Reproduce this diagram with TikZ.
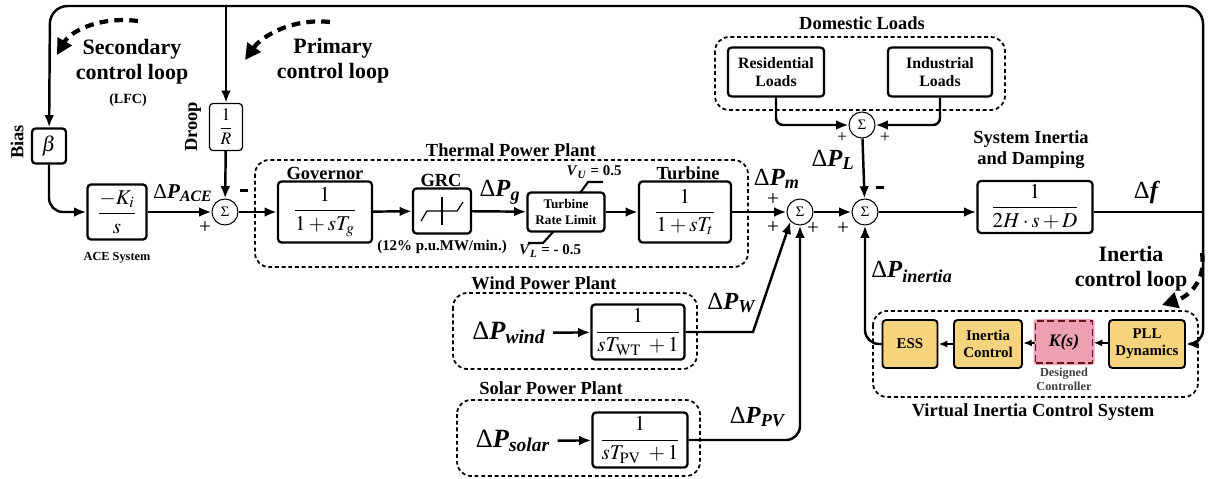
\documentclass[tikz,border=0pt]{standalone}
\usepackage{amsmath}
\usepackage{mathptmx}
\usepackage{fontspec}
\setmainfont{Liberation Serif}
\usepackage{xcolor}
\usepackage{tikz}
\usetikzlibrary{
  arrows.meta,
  positioning,
  calc
}
\definecolor{vicyellow}{RGB}{246,211,125}
\definecolor{kspink}{RGB}{236,160,178}
\definecolor{ksred}{RGB}{140,30,40}
\newcommand{\dP}[1]{Δ\textbf{\textit{P}}\textsubscript{\textbf{\textit{#1}}}}
\newcommand{\minus}{\rule[1.5pt]{5pt}{1.8pt}}

\begin{document}
\begin{tikzpicture}[
    x=0.02cm, y=-0.02cm,
    >={Latex[length=7pt,width=5.5pt]},
    block/.style={
      draw,
      line width=1.3pt,
      rounded corners=2pt,
      fill=white,
      inner sep=1pt,
      align=center,
      font=\fontsize{12}{14}\selectfont
    },
    sumnode/.style={
      draw,
      circle,
      line width=0.6pt,
      minimum size=5.2mm,
      inner sep=0pt,
      fill=white,
      font=\fontsize{8}{8}\selectfont
    },
    vbox/.style={
      draw,
      line width=1.1pt,
      rounded corners=2pt,
      fill=vicyellow,
      align=center,
      inner sep=1pt,
      font=\bfseries\fontsize{8.5}{9.5}\selectfont
    },
    group/.style={
      draw,
      dash pattern=on 2.2pt off 1.6pt,
      line width=1pt,
      rounded corners=8pt
    },
    wire/.style={line width=1.4pt,->},
    title/.style={font=\bfseries\fontsize{10.5}{12}\selectfont,align=center},
    note/.style={font=\bfseries\fontsize{12.5}{14}\selectfont,align=center},
    small/.style={font=\bfseries\fontsize{8}{9}\selectfont,align=center},
    sig/.style={font=\fontsize{12}{12}\selectfont,inner sep=0pt},
    lbl/.style={font=\fontsize{14}{14}\selectfont,inner sep=0pt},
    looparrow/.style={
      line width=2.4pt,
      dash pattern=on 5pt off 3.5pt,
      -{Triangle[length=9pt,width=9pt]}
    }
  ]
  \useasboundingbox (0,0) rectangle (1212,478);

  % ========== Group frames ==========
  \draw[group] (255,160) rectangle (748,267);
  \draw[group] (715,37) rectangle (1005,110);
  \draw[group] (453,293) rectangle (697,369);
  \draw[group] (457,400) rectangle (700,476);
  \draw[group] (873,311) rectangle (1198,397);

  \node[title] (tthermal) at (511,150) {Thermal Power Plant};
  \node[title] (tdomestic) at (862,23) {Domestic Loads};
  \node[title] (twind) at (544,283) {Wind Power Plant};
  \node[title] (tsolar) at (551,388) {Solar Power Plant};
  \node[title] (tvirtual) at (1033,412) {Virtual Inertia Control System};

  % ========== Secondary / primary loop ==========
  \node[block,minimum width=6.8mm,minimum height=7mm] (beta) at (49,146) {$\beta$};
  \node[block,line width=0.7pt,minimum width=6.6mm,minimum height=9.4mm,
    font=\fontsize{10}{12}\selectfont] (droop) at (226,127) {$\dfrac{1}{R}$};
  \node[block,minimum width=11.8mm,minimum height=11mm] (ki) at (117,212)
    {$\dfrac{-K_i}{s}$};
  \node[sumnode] (sum1) at (225,212) {$\Sigma$};

  \node[title,rotate=90] (tbias) at (17,142) {Bias};
  \node[title,rotate=90] (tdroop) at (193,127) {Droop};
  \node[small,font=\bfseries\fontsize{7}{8}\selectfont] (tace) at (117,258) {ACE System};
  \node[note] (tsec) at (132,62) {Secondary\\control loop};
  \node[small] (tlfc) at (128,100) {(LFC)};
  \node[note] (tpri) at (333,61) {Primary\\control loop};
  \node[lbl,font=\fontsize{12}{12}\selectfont] (lace) at (183,193) {\dP{ACE}};
  \node[sig] (s1a) at (205,228) {+};
  \node[sig] (s1b) at (244,192) {\minus};

  \draw[looparrow] (138,21) .. controls (98,16) and (70,32) .. (57,55);
  \draw[looparrow] (330,22) .. controls (292,18) and (262,36) .. (245,60);

  % ========== Thermal power plant ==========
  \node[block,minimum width=18.8mm,minimum height=12.2mm] (gov) at (325,212)
    {$\dfrac{1}{1+sT_g}$};
  \node[block,minimum width=11.6mm,minimum height=9mm] (grc) at (442,211) {};
  \node[block,font=\bfseries\fontsize{7.5}{9}\selectfont,minimum width=15.4mm,
    minimum height=7.8mm] (trl) at (566,212) {Turbine\\Rate Limit};
  \node[block,minimum width=18.4mm,minimum height=12.2mm] (turb) at (685,212)
    {$\dfrac{1}{1+sT_t}$};

  \node[title] (tgov) at (325,173) {Governor};
  \node[title] (tgrc) at (441,180) {GRC};
  \node[title] (tturb) at (688,173) {Turbine};
  \node[small,font=\bfseries\fontsize{8.5}{9}\selectfont] (tgrcrate) at (442,247)
    {(12\% p.u.MW/min.)};
  \node[lbl] (lg) at (500,192) {\dP{g}};
  \node[small,font=\bfseries\fontsize{8.5}{9}\selectfont] (tvu) at (594,172)
    {\textit{V}\textsubscript{\textit{U}} = 0.5};
  \node[small,font=\bfseries\fontsize{8.5}{9}\selectfont] (tvl) at (550,251)
    {\textit{V}\textsubscript{\textit{L}} = - 0.5};

  % GRC characteristic and rate limit marks
  \draw[line width=0.7pt] (442,197) -- (442,225);
  \draw[line width=0.7pt] (421,221) -- (427,211) -- (457,211) -- (463,202);
  \draw[line width=1.2pt] (580,193) -- (588,182) -- (603,182);
  \draw[line width=1.2pt] (553,232) -- (543,243) -- (528,243);

  % ========== Domestic loads ==========
  \node[block,font=\bfseries\fontsize{9}{10.5}\selectfont,minimum width=19.2mm,
    minimum height=9.8mm] (res) at (776,72) {Residential\\Loads};
  \node[block,font=\bfseries\fontsize{9}{10.5}\selectfont,minimum width=20.8mm,
    minimum height=9.8mm] (ind) at (940,72) {Industrial\\Loads};
  \node[sumnode] (sumL) at (862,125) {$\Sigma$};
  \node[sig,font=\fontsize{10}{10}\selectfont] (sLa) at (842,138) {+};
  \node[sig,font=\fontsize{10}{10}\selectfont] (sLb) at (885,138) {+};
  \node[lbl] (lL) at (833,160) {\dP{L}};

  % ========== Summing points and system ==========
  \node[sumnode] (sum2) at (800,212) {$\Sigma$};
  \node[sumnode] (sum3) at (865,212) {$\Sigma$};
  \node[block,minimum width=23mm,minimum height=10.4mm] (sys) at (1035,207)
    {$\dfrac{1}{2H\cdot s+D}$};
  \coordinate (fout) at (1203,212);
  \coordinate (tl) at (50,6);

  \node[title] (tsys) at (1031,150) {System Inertia\\and Damping};
  \node[lbl] (lm) at (777,179) {\dP{m}};
  \node[sig] (s2a) at (773,200) {+};
  \node[sig] (s2b) at (773,228) {+};
  \node[sig] (s2c) at (813,229) {+};
  \node[sig] (s3a) at (843,229) {+};
  \node[sig] (s3b) at (880,189) {\minus};
  \node[lbl] (lf) at (1147,192) {Δ\textbf{\textit{f}}};

  % ========== Wind and solar ==========
  \node[block,minimum width=18.6mm,minimum height=11mm] (wind) at (638,332)
    {$\dfrac{1}{sT_{\mathrm{WT}}\;+1}$};
  \node[block,minimum width=19mm,minimum height=11mm] (solar) at (640,440)
    {$\dfrac{1}{sT_{\mathrm{PV}}\;+1}$};
  \node[lbl,font=\fontsize{15}{15}\selectfont] (lwind) at (509,333) {\dP{wind}};
  \node[lbl,font=\fontsize{15}{15}\selectfont] (lsolar) at (513,441) {\dP{solar}};
  \node[lbl] (lW) at (732,303) {\dP{W}};
  \node[lbl] (lPV) at (758,417) {\dP{PV}};
  \coordinate (wbend) at (753,332);

  % ========== Virtual inertia control ==========
  \node[vbox,minimum width=11mm,minimum height=9.6mm] (ess) at (910,344) {ESS};
  \node[vbox,minimum width=13.6mm,minimum height=9.6mm] (ictl) at (988,344)
    {Inertia\\Control};
  \node[vbox,draw=none,fill=kspink,minimum width=12.2mm,minimum height=9.2mm]
    (ksbg) at (1064,342) {};
  \node[vbox,fill=none,draw=ksred!70!black,dashed,dash pattern=on 4pt off 2pt,
    rounded corners=0pt,minimum width=11.4mm,minimum height=8.4mm,
    font=\bfseries\itshape\fontsize{10}{12}\selectfont] (ks) at (1064,342) {K(s)};
  \node[vbox,minimum width=15.2mm,minimum height=9.6mm] (pll) at (1147,344)
    {PLL\\Dynamics};
  \node[small,font=\bfseries\fontsize{7}{8}\selectfont,text=black!75] (tks) at (1064,379)
    {Designed\\Controller};
  \node[lbl] (linertia) at (912,272) {\dP{inertia}};
  \node[note] (tinl) at (1131,269) {Inertia\\control loop};
  \draw[looparrow] (1202,253) .. controls (1206,280) and (1190,296) .. (1162,305);

  % ========== Connectors ==========
  \draw[wire,rounded corners=8pt] (beta) |- (ki);
  \draw[wire] (ki) -- (sum1);
  \draw[wire] (droop) -- (sum1);
  \draw[wire] (sum1) -- (gov);
  \draw[wire] (gov) -- (grc);
  \draw[wire] (grc) -- (trl);
  \draw[wire] (trl) -- (turb);
  \draw[wire] (turb) -- (sum2);
  \draw[wire] (sum2) -- (sum3);
  \draw[wire] (sum3) -- (sys.west |- sum3);
  \draw[wire,rounded corners=4pt] (res) |- (sumL);
  \draw[wire,rounded corners=4pt] (ind) |- (sumL);
  \draw[wire] (sumL) -- (sum3);
  \draw[line width=1.4pt] (sys.east |- fout) -- (fout);
  \draw[wire,rounded corners=10pt] (fout) |- (tl) -- (beta);
  \draw[wire] (droop |- tl) -- (droop);
  \draw[wire,rounded corners=8pt] (fout) |- (pll);
  \draw[wire,shorten <=4pt] (lwind) -- (wind);
  \draw[wire,shorten <=4pt] (lsolar) -- (solar);
  \draw[wire] (wind) -- (wbend) -- (sum2.south west);
  \draw[wire,rounded corners=8pt] (solar) -| (sum2);
  \draw[line width=1.1pt,-{Latex[length=5pt,width=4pt]}] (pll) -- (ks);
  \draw[line width=1.1pt,-{Latex[length=5pt,width=4pt]}] (ks) -- (ictl);
  \draw[line width=1.1pt,-{Latex[length=5pt,width=4pt]}] (ictl) -- (ess);
  \draw[wire,rounded corners=8pt] (ess) -| (sum3);
\end{tikzpicture}
\end{document}
